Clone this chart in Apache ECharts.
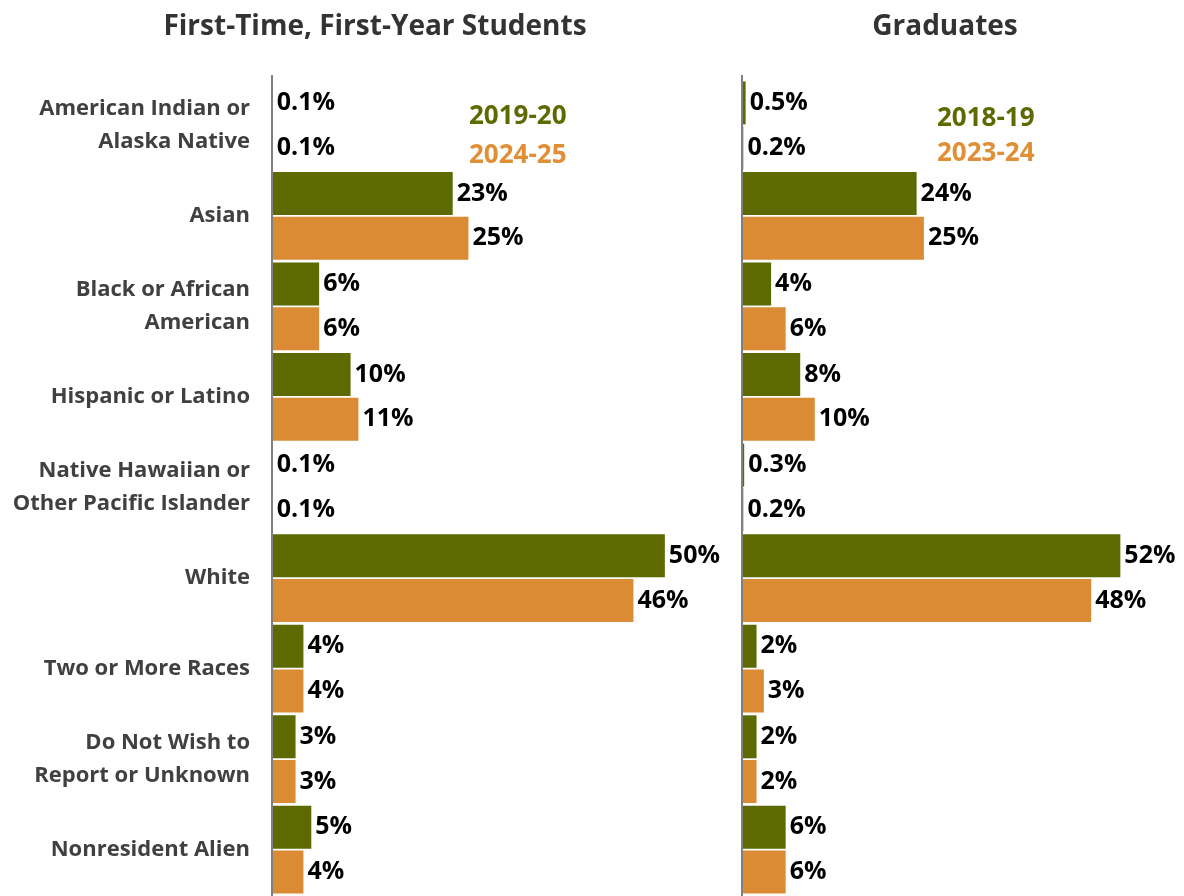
<!DOCTYPE html>
<html>
<head>
<meta charset="utf-8">
<script src="https://cdn.jsdelivr.net/npm/echarts@6/dist/echarts.min.js"></script>
<style>
  html, body { margin: 0; padding: 0; background: #fff; }
  #chart { width: 1184px; height: 896px; }
</style>
</head>
<body>
<div id="chart"></div>
<script>
// Race / ethnicity shares (%), two cohorts per group
const categories = [
  'American Indian or\nAlaska Native',
  'Asian',
  'Black or African\nAmerican',
  'Hispanic or Latino',
  'Native Hawaiian or\nOther Pacific Islander',
  'White',
  'Two or More Races',
  'Do Not Wish to\nReport or Unknown',
  'Nonresident Alien'
];

const ftfyTitle = 'First-Time, First-Year Students';
const gradTitle = 'Graduates';

const ftfyYears = ['2019-20', '2024-25'];
const ftfy2019 = [0.1, 23, 6, 10, 0.1, 50, 4, 3, 5];
const ftfy2024 = [0.1, 25, 6, 11, 0.1, 46, 4, 3, 4];

const gradYears = ['2018-19', '2023-24'];
const grad2018 = [0.5, 24, 4, 8, 0.3, 52, 2, 2, 6];
const grad2023 = [0.2, 25, 6, 10, 0.2, 48, 3, 2, 6];

const GREEN = '#5c6a00';
const ORANGE = '#db8b33';
const FONT = '"Open Sans", Lato, sans-serif';

const chart = echarts.init(document.getElementById('chart'), null, { renderer: 'canvas' });

const fmt = p => p.value + '%';

function barSeries(name, data, color, gridIdx) {
  return {
    name: name,
    type: 'bar',
    xAxisIndex: gridIdx,
    yAxisIndex: gridIdx,
    data: data,
    barWidth: 43,
    barGap: '4%',
    itemStyle: { color: color },
    label: {
      show: true,
      position: 'right',
      distance: 4,
      formatter: fmt,
      color: '#000',
      fontFamily: FONT,
      fontWeight: 'bold',
      fontSize: 25
    },
    silent: true,
    animation: false
  };
}

const grids = [
  { left: 272, top: 80, width: 440, height: 815 },
  { left: 742, top: 80, width: 422, height: 815 }
];

const option = {
  backgroundColor: '#fff',
  animation: false,
  title: [
    {
      text: ftfyTitle, left: 370, top: 8, textAlign: 'center',
      textStyle: { fontFamily: FONT, fontWeight: 'bold', fontSize: 28, color: '#333' }
    },
    {
      text: gradTitle, left: 940, top: 8, textAlign: 'center',
      textStyle: { fontFamily: FONT, fontWeight: 'bold', fontSize: 28, color: '#333' }
    }
  ],
  legend: [
    {
      orient: 'vertical', left: 459, top: 99, itemWidth: 0, itemHeight: 0, itemGap: 13,
      icon: 'none', selectedMode: false,
      textStyle: { fontFamily: FONT, fontWeight: 'bold', fontSize: 26, padding: 0 },
      data: [
        { name: ftfyYears[0], textStyle: { color: GREEN } },
        { name: ftfyYears[1], textStyle: { color: '#e08f36' } }
      ]
    },
    {
      orient: 'vertical', left: 927, top: 101, itemWidth: 0, itemHeight: 0, itemGap: 9,
      icon: 'none', selectedMode: false,
      textStyle: { fontFamily: FONT, fontWeight: 'bold', fontSize: 26, padding: 0 },
      data: [
        { name: gradYears[0], textStyle: { color: GREEN } },
        { name: gradYears[1], textStyle: { color: '#e08f36' } }
      ]
    }
  ],
  grid: grids,
  xAxis: [
    { type: 'value', gridIndex: 0, min: 0, max: 56, show: false },
    { type: 'value', gridIndex: 1, min: 0, max: 58, show: false }
  ],
  yAxis: [
    {
      type: 'category', gridIndex: 0, inverse: true, data: categories,
      axisLine: { show: false }, axisTick: { show: false },
      axisLabel: {
        margin: 22, color: '#404040', fontFamily: FONT, fontWeight: 'bold',
        fontSize: 22, lineHeight: 33, align: 'right'
      }
    },
    {
      type: 'category', gridIndex: 1, inverse: true, data: categories,
      axisLine: { show: false }, axisTick: { show: false }, axisLabel: { show: false }
    }
  ],
  series: [
    barSeries(ftfyYears[0], ftfy2019, GREEN, 0),
    barSeries(ftfyYears[1], ftfy2024, ORANGE, 0),
    barSeries(gradYears[0], grad2018, GREEN, 1),
    barSeries(gradYears[1], grad2023, ORANGE, 1)
  ],
  // Vertical baseline for each panel, slightly taller than the plot area
  graphic: grids.map(g => ({
    type: 'line',
    shape: { x1: g.left, y1: 75, x2: g.left, y2: 896 },
    style: { stroke: '#808080', lineWidth: 2 },
    z: 10,
    silent: true
  }))
};

chart.setOption(option);
</script>
</body>
</html>
